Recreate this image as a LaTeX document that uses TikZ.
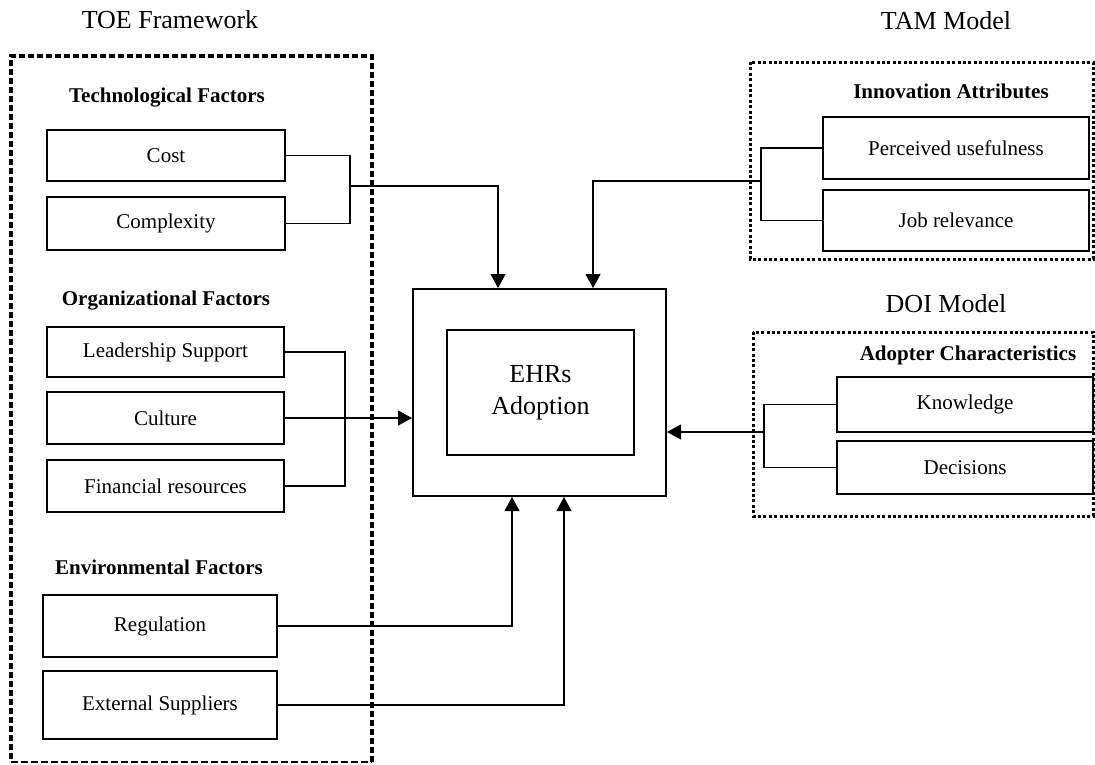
\documentclass[tikz,border=0pt]{standalone}
\usepackage{fontspec}
\setmainfont{Liberation Serif}
\usetikzlibrary{positioning,arrows.meta,calc}

\begin{document}
\begin{tikzpicture}[x=1pt,y=-1pt]
    \tikzstyle{every node}=[inner sep=0]
    \tikzstyle{factor}=[draw,rectangle,line width=1.1pt,font=\fontsize{21}{25}\selectfont]
    \tikzstyle{head}=[anchor=base,font=\fontsize{21}{25}\selectfont\bfseries]
    \tikzstyle{title}=[anchor=base,font=\fontsize{26}{30}\selectfont]
    \tikzstyle{link}=[line width=1.1pt]
    \tikzstyle{arr}=[link,-{Triangle[length=14pt,width=15pt]}]
    \tikzstyle{toe}=[line width=3.2pt,dash pattern=on 6pt off 3pt]
    \tikzstyle{model}=[line width=3pt,dash pattern=on 3pt off 2.4pt]

    \useasboundingbox (0,0) rectangle (1095,764);
    {
        % frames
        \draw[toe] (372,762) -- (372,56) -- (11,56) -- (11,762);
        \draw[line width=1.2pt,dash pattern=on 7pt off 3pt] (11,762) -- (372,762);
        \draw[model] (750,62) rectangle (1093,259);
        \draw[model] (753,332) rectangle (1093,516);

        \node[title] (labeltoe) at (170,28) {TOE Framework};
        \node[title] (labeltam) at (946,29) {TAM Model};
        \node[title] (labeldoi) at (946,312) {DOI Model};

        \node[head] (htech) at (167,102) {Technological Factors};
        \node[head] (horg) at (166,305) {Organizational Factors};
        \node[head] (henv) at (159,574) {Environmental Factors};
        \node[head] (hinno) at (951,98) {Innovation Attributes};
        \node[head] (hadopt) at (968,360) {Adopter Characteristics};

        \node[factor,minimum width=238,minimum height=51] (cost) at (166,155.5) {Cost};
        \node[factor,minimum width=238,minimum height=53] (complexity) at (166,223.5) {Complexity};
        \node[factor,minimum width=237,minimum height=50] (leader) at (165.5,352) {Leadership Support};
        \node[factor,minimum width=237,minimum height=52] (culture) at (165.5,418) {Culture};
        \node[factor,minimum width=237,minimum height=52] (finance) at (165.5,486) {Financial resources};
        \node[factor,minimum width=234,minimum height=62] (regul) at (160,626) {Regulation};
        \node[factor,minimum width=234,minimum height=68] (extsup) at (160,705) {External Suppliers};
        \node[factor,minimum width=266,minimum height=62] (useful) at (956,148) {Perceived usefulness};
        \node[factor,minimum width=266,minimum height=61] (jobrel) at (956,220.5) {Job relevance};
        \node[factor,minimum width=256,minimum height=55] (knowl) at (965,404.5) {Knowledge};
        \node[factor,minimum width=256,minimum height=53] (decis) at (965,467.5) {Decisions};

        \node[draw,line width=2pt,minimum width=253,minimum height=207] (ehr) at (539.5,392.5) {};
        \node[draw,line width=1.1pt,minimum width=187,minimum height=125,align=center,
              font=\fontsize{26}{32}\selectfont] (ehrin) at (540.5,392.5) {EHRs\\Adoption};

        \coordinate (techj) at (350,186);
        \coordinate (orgj) at (345,418);
        \coordinate (tamj) at (761,181);
        \coordinate (doij) at (764,432);

        \draw[link] (cost.east) -| (techj) |- (complexity.east);
        \draw[link] (leader.east) -| (orgj) |- (finance.east);
        \draw[link] (useful.west) -| (tamj) |- (jobrel.west);
        \draw[link] (knowl.west) -| (doij) |- (decis.west);

        \draw[arr] (techj) -| ([xshift=-41.5]ehr.north);
        \draw[arr] (tamj) -| ([xshift=53.5]ehr.north);
        \draw[arr] (culture.east) -- (culture.east -| ehr.west);
        \draw[arr] (doij) -- (doij -| ehr.east);
        \draw[arr] (regul.east) -| ([xshift=-27.5]ehr.south);
        \draw[arr] (extsup.east) -| ([xshift=24.5]ehr.south);
    }
\end{tikzpicture}
\end{document}
